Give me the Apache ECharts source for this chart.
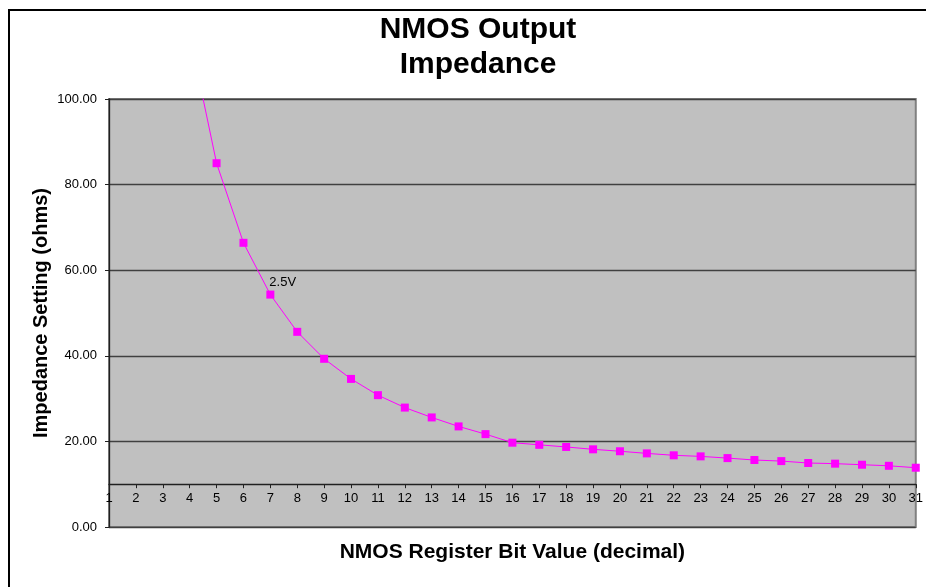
<!DOCTYPE html>
<html>
<head>
<meta charset="utf-8">
<script src="https://cdn.jsdelivr.net/npm/echarts@6/dist/echarts.min.js"></script>
<style>
  html, body { margin: 0; padding: 0; background: #ffffff; }
  #chart { width: 926px; height: 587px; }
</style>
</head>
<body>
<div id="chart"></div>
<script>
// Register bit values 1..31 on the category axis
const categories = ['1','2','3','4','5','6','7','8','9','10','11','12','13','14','15','16',
  '17','18','19','20','21','22','23','24','25','26','27','28','29','30','31'];

// Output impedance (ohms) per register value; value 4 lies above the plotted range
const impedance = [null, null, null, 115, 85.0, 66.4, 54.3, 45.6, 39.3, 34.6, 30.8, 27.9,
  25.6, 23.5, 21.7, 19.7, 19.2, 18.7, 18.15, 17.7, 17.2, 16.75, 16.5, 16.1, 15.65,
  15.4, 14.95, 14.8, 14.55, 14.3, 13.85];

// Annotated points: register value -> label text
const pointLabels = { '7': '2.5V' };

// Value axis range and where the category axis crosses it
const yMin = 0, yMax = 100, yStep = 20, xCross = 10;

const font = 'Arial, "Liberation Sans", sans-serif';
const gridTop = 99, gridHeight = 428;

const seriesData = impedance.map((v, i) => {
  const txt = pointLabels[categories[i]];
  if (!txt) return v;
  return {
    value: v,
    label: {
      show: true, formatter: txt, position: 'top', align: 'left',
      distance: 2, offset: [-1, 0], color: '#000', fontSize: 13, fontFamily: font
    }
  };
});

const chart = echarts.init(document.getElementById('chart'), null, { renderer: 'canvas' });
chart.setOption({
  animation: false,
  backgroundColor: '#ffffff',
  title: {
    text: 'NMOS Output\nImpedance',
    left: 473, top: 7, textAlign: 'center',
    textStyle: { fontFamily: font, fontWeight: 'bold', fontSize: 30, lineHeight: 35, color: '#000' }
  },
  graphic: [{
    type: 'rect', silent: true, z: 100,
    shape: { x: 9, y: 10, width: 940, height: 600 },
    style: { fill: 'none', stroke: '#000', lineWidth: 2 }
  }],
  grid: {
    left: 109, top: gridTop, right: 8, height: gridHeight,
    show: true, backgroundColor: '#c0c0c0', borderColor: '#808080', borderWidth: 2
  },
  xAxis: {
    type: 'category', data: categories, boundaryGap: false,
    offset: -gridHeight * (xCross - yMin) / (yMax - yMin),
    name: 'NMOS Register Bit Value (decimal)', nameLocation: 'middle', nameGap: 58,
    nameMoveOverlap: false,
    nameTextStyle: { fontFamily: font, fontWeight: 'bold', fontSize: 21, color: '#000' },
    axisLine: { show: true, lineStyle: { color: '#202020', width: 1.3 } },
    axisTick: { show: true, length: 4, inside: false, lineStyle: { color: '#202020' } },
    axisLabel: { fontFamily: font, fontSize: 13, color: '#000', margin: 8, interval: 0 },
    splitLine: { show: false }
  },
  yAxis: {
    type: 'value', min: yMin, max: yMax, interval: yStep,
    name: 'Impedance Setting (ohms)', nameLocation: 'middle', nameGap: 58,
    nameMoveOverlap: false,
    nameTextStyle: { fontFamily: font, fontWeight: 'bold', fontSize: 20, color: '#000' },
    axisLine: { show: true, lineStyle: { color: '#202020', width: 1.3 } },
    axisTick: { show: true, length: 4, lineStyle: { color: '#202020' } },
    axisLabel: { fontFamily: font, fontSize: 13, color: '#000', margin: 12,
      formatter: v => v.toFixed(2) },
    splitLine: { show: true, lineStyle: { color: '#404040', width: 1.3 } }
  },
  series: [{
    type: 'line', data: seriesData, clip: true,
    symbol: 'rect', symbolSize: 8, showAllSymbol: true,
    lineStyle: { color: '#ff00ff', width: 1 },
    itemStyle: { color: '#ff00ff' },
    connectNulls: false, z: 3
  }]
});
</script>
</body>
</html>
